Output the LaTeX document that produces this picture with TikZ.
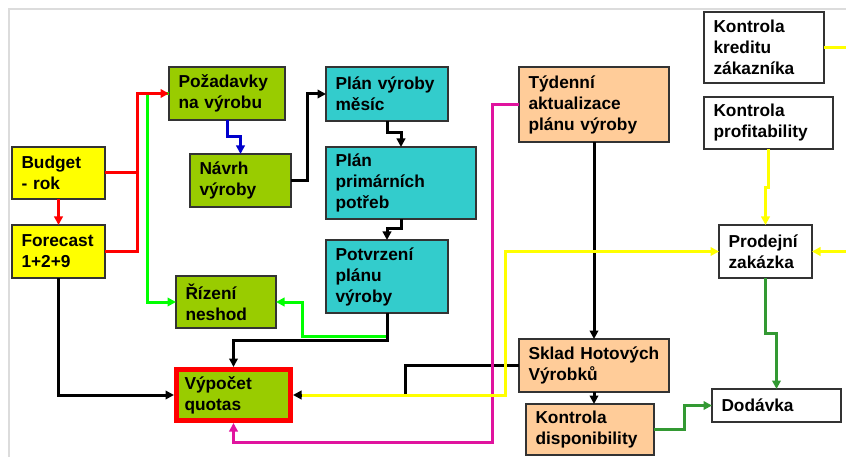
\documentclass[tikz,border=0pt]{standalone}
\usepackage{fontspec}
\setmainfont{Liberation Sans}
\usetikzlibrary{arrows.meta}

\definecolor{fillyellow}{HTML}{FFFF00}
\definecolor{fillgreen}{HTML}{99CC00}
\definecolor{fillteal}{HTML}{33CCCC}
\definecolor{fillpeach}{HTML}{FFCC99}
\definecolor{borderdark}{HTML}{333333}
\definecolor{flowblue}{HTML}{0000CC}
\definecolor{flowgreen}{HTML}{00FF00}
\definecolor{flowdkgreen}{HTML}{339933}
\definecolor{flowmagenta}{HTML}{E0139E}
\definecolor{flowyellow}{HTML}{FFFF00}
\definecolor{framegray}{HTML}{DCDCDC}

\tikzset{
  box/.style={draw=borderdark, line width=1.4pt, inner xsep=9.5pt, inner ysep=0pt,
    outer sep=0pt, align=left, font=\bfseries\fontsize{17.3}{21}\selectfont},
  tip/.tip={Triangle[length=8.5pt,width=8.5pt]},
  conn/.style={line width=3pt, -tip},
  plain/.style={line width=3pt},
}

\begin{document}
\begin{tikzpicture}[x=1pt,y=-1pt]
\useasboundingbox (0,0) rectangle (846,457);
\clip (0,0) rectangle (846,457);

% page frame
\draw[framegray, line width=2pt] (846,9) -- (9,9) -- (9,457);

% boxes
\node[box, fill=fillyellow, minimum width=93pt, minimum height=52pt, text width=74pt] (budget) at (58.5,173) {Budget\\\mbox{- rok}};
\node[box, fill=fillyellow, minimum width=93pt, minimum height=53pt, text width=74pt] (forecast) at (58.5,251.5) {Forecast\\1+2+9};
\node[box, fill=fillgreen, minimum width=116pt, minimum height=53pt, text width=97pt] (pozadavky) at (227,93.5) {Požadavky\\\mbox{na výrobu}};
\node[box, fill=fillgreen, minimum width=101pt, minimum height=53pt, text width=82pt] (navrh) at (240.5,180.5) {Návrh\\výroby};
\node[box, fill=fillgreen, minimum width=100pt, minimum height=52pt, text width=81pt] (rizeni) at (226,302) {Řízení\\neshod};
\node[box, fill=fillgreen, draw=red, line width=5pt, outer sep=2.5pt, inner xsep=8pt, minimum width=114pt, minimum height=51pt, text width=98pt] (vypocet) at (233.5,395) {Výpočet\\quotas};
\node[box, fill=fillteal, minimum width=122pt, minimum height=54pt, text width=103pt] (planmesic) at (387,94) {\mbox{Plán výroby}\\měsíc};
\node[box, fill=fillteal, minimum width=150pt, minimum height=72pt, text width=131pt] (planprim) at (401,183) {Plán\\primárních\\potřeb};
\node[box, fill=fillteal, minimum width=122pt, minimum height=73pt, text width=103pt] (potvrzeni) at (387,276.5) {Potvrzení\\plánu\\výroby};
\node[box, fill=fillpeach, minimum width=150pt, minimum height=75pt, text width=131pt] (tydenni) at (594,104.5) {Týdenní\\aktualizace\\\mbox{plánu výroby}};
\node[box, fill=fillpeach, minimum width=150pt, minimum height=53pt, text width=131pt] (sklad) at (594,365.5) {\mbox{Sklad Hotových}\\Výrobků};
\node[box, fill=fillpeach, minimum width=128pt, minimum height=51pt, text width=109pt] (disp) at (590,429.5) {Kontrola\\disponibility};
\node[box, fill=white, minimum width=120pt, minimum height=71pt, text width=101pt] (kreditu) at (764,47.5) {Kontrola\\kreditu\\zákazníka};
\node[box, fill=white, minimum width=129pt, minimum height=52pt, text width=110pt] (profit) at (768.5,123) {Kontrola\\profitability};
\node[box, fill=white, minimum width=93pt, minimum height=53pt, text width=74pt] (prodejni) at (765.5,251.5) {Prodejní\\zakázka};
\node[box, fill=white, minimum width=129pt, minimum height=33pt, text width=110pt] (dodavka) at (776.5,405.5) {Dodávka};

% bright green flows
\draw[conn, flowgreen] (pozadavky.west) -| (147,302) -- (rizeni.west);
\draw[conn, flowgreen] (potvrzeni.south) |- (302,336) |- (rizeni.east);

% red flows
\draw[conn, red] (budget.east) -| (137,93.5) -- (pozadavky.west);
\draw[plain, red] (forecast.east) -| (137,173);
\draw[conn, red] (budget.south) -- (forecast.north);

% blue flow
\draw[conn, flowblue] (pozadavky.south) |- (240.5,137) -- (navrh.north);

% black flows
\draw[conn] (navrh.east) -| (307,94) -- (planmesic.west);
\draw[conn] (planmesic.south) |- (401,133) -- (planprim.north);
\draw[conn] (planprim.south) |- (387,229) -- (potvrzeni.north);
\draw[conn] (potvrzeni.south) |- (233.5,340) -- (vypocet.north);
\draw[conn] (forecast.south) |- (vypocet.west);
\draw[conn] (tydenni.south) -- (sklad.north);
\draw[conn] (sklad.south) -- (sklad.south |- disp.north);
\draw[conn] (sklad.west) -| (405,395) -- (vypocet.east);

% magenta flow
\draw[conn, flowmagenta] (tydenni.west) -| (492,442) -| (vypocet.south);

% yellow flows
\draw[conn, flowyellow, shorten <=8.5pt] (vypocet.east) -| (505,251.5) -- (prodejni.west);
\draw[conn, flowyellow] (profit.south) |- (765.5,188) -- (prodejni.north);
\draw[conn, flowyellow] (kreditu.east) -| (852,251.5) -- (prodejni.east);

% dark green flows
\draw[conn, flowdkgreen] (prodejni.south) |- (776.5,333) -- (dodavka.north);
\draw[conn, flowdkgreen] (disp.east) -| (684,405.5) -- (dodavka.west);
\end{tikzpicture}
\end{document}
